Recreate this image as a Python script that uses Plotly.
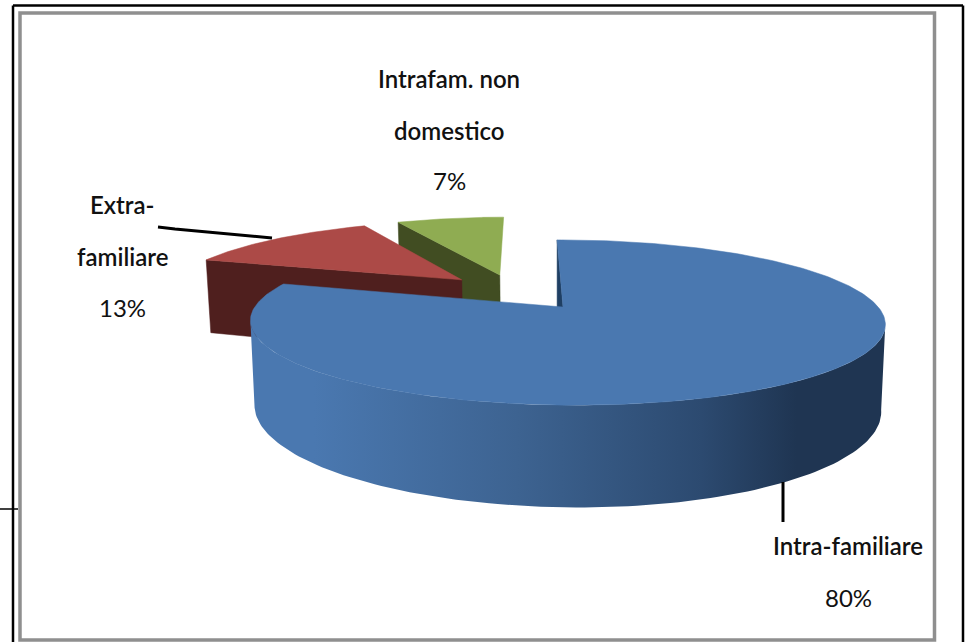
import numpy as np
import plotly.graph_objects as go

# --- data ---
CATEGORIES = ["Intra-familiare", "Extra-familiare", "Intrafam. non domestico"]
VALUES = [80, 13, 7]
LABEL_LINES = [["Intra-familiare", "80%"], ["Extra-", "familiare", "13%"], ["Intrafam. non", "domestico", "7%"]]
LABEL_X = [848, 122, 449]
LABEL_Y = [[545, 597], [204, 256, 307], [78, 130, 180]]

TOP_COLORS = ["#4a78b0", "#ac4a47", "#8fac52"]
WALL_COLORS = ["#1f3552", "#4f1f1e", "#414d22"]
OFFSETS = [(0.0, 0.0), (-0.34, -0.365), (-0.21, -0.434)]  # slice explosion on the pie plane

# perspective camera for the pie plane
X0, Y0 = 563.0, 307.0
SX, SHEAR, SY, TILT_U = 311.7, 7.0, 22.0, -3.4
DEPTH = 83.0


def project(u, t, z=0.0):
    u, t = np.asarray(u, float), np.asarray(t, float)
    w = 1 - 0.188 * t - 0.011 * u
    x = X0 + (SX * u + SHEAR * t) * (1 - 0.013 * z) / w
    y = (Y0 + SY * t + TILT_U * u + DEPTH * z) / w
    return x, y


def arc(a0, a1, off, n=120):
    th = np.radians(np.linspace(a0, a1, n))
    return np.sin(th) + off[0], -np.cos(th) + off[1]


def poly(x, y, color, **kw):
    return go.Scatter(x=list(x), y=list(y), mode="lines", fill="toself", fillcolor=color,
                      line=dict(color=color, width=0.5), hoverinfo="skip", showlegend=False, **kw)


total = sum(VALUES)
edges = np.cumsum([0] + VALUES) / total * 360.0
fig = go.Figure()

# exploded slices, back to front: green (index 2) then red (index 1)
for i in (2, 1):
    a0, a1 = edges[i], edges[i + 1]
    off = OFFSETS[i]
    eu, et = np.sin(np.radians(a0)) + off[0], -np.cos(np.radians(a0)) + off[1]
    xs_t, ys_t = project([off[0], eu], [off[1], et], 0)
    xs_b, ys_b = project([off[0], eu], [off[1], et], 1)
    fig.add_trace(poly(np.r_[xs_t, xs_b[::-1], xs_t[0]], np.r_[ys_t, ys_b[::-1], ys_t[0]], WALL_COLORS[i]))
    u, t = arc(a0, a1, off)
    x, y = project(np.r_[off[0], u, off[0]], np.r_[off[1], t, off[1]], 0)
    fig.add_trace(poly(x, y, TOP_COLORS[i]))

# main slice: cut wall sliver
xa, ya = project(0.0, 0.0)
xt, yt = project(0.0, -1.0)
fig.add_trace(poly([float(xt), float(xa), float(xt), float(xt)],
                   [float(yt), float(ya), float(ya), float(yt)], "#1f3f63"))

# main slice: outer side with gradient
u, t = arc(101, 259, OFFSETS[0])
xs1, ys1 = project(u, t, 0)
xs2, ys2 = project(u, t, 1)
side_x = np.r_[xs1, xs2[::-1], xs1[0]]
side_y = np.r_[ys1, ys2[::-1], ys1[0]]
fig.add_trace(go.Scatter(
    x=list(side_x), y=list(side_y), mode="lines", fill="toself",
    fillgradient=dict(type="horizontal", start=float(side_x.min()), stop=float(side_x.max()),
                      colorscale=[[0, "#4a78b0"], [0.1, "#4a78b0"], [0.42, "#3d6391"],
                                  [0.71, "#2c4a70"], [0.86, "#1f3552"], [1, "#1f3552"]]),
    line=dict(width=0, color="rgba(0,0,0,0)"), hoverinfo="skip", showlegend=False))

# main slice: top
u, t = arc(edges[0], edges[1], OFFSETS[0], 300)
x, y = project(np.r_[0, u, 0], np.r_[0, t, 0], 0)
fig.add_trace(poly(x, y, TOP_COLORS[0]))

# leader lines
fig.add_trace(go.Scatter(x=[158, 175, 272], y=[227, 229, 238], mode="lines",
                         line=dict(color="#000000", width=3), hoverinfo="skip", showlegend=False))
fig.add_trace(go.Scatter(x=[783, 783], y=[482, 522], mode="lines",
                         line=dict(color="#000000", width=3), hoverinfo="skip", showlegend=False))

# labels
for lines, lx, lys in zip(LABEL_LINES, LABEL_X, LABEL_Y):
    for s, ly in zip(lines, lys):
        fig.add_annotation(x=lx, y=ly, text=s, showarrow=False, xref="x", yref="y",
                           xanchor="center", yanchor="middle",
                           font=dict(family="Lato", size=24, color="#111111",
                                     weight=400 if s.endswith("%") else 600))

# frame of the scanned picture
shapes = [
    dict(type="line", x0=13, x1=13, y0=5.5, y1=642, line=dict(color="#000000", width=2.5)),
    dict(type="line", x0=13, x1=963, y0=5.5, y1=5.5, line=dict(color="#000000", width=2.5)),
    dict(type="line", x0=963, x1=963, y0=5.5, y1=642, line=dict(color="#000000", width=2.5)),
    dict(type="line", x0=0, x1=18, y0=509, y1=509, line=dict(color="#000000", width=1.5)),
    dict(type="rect", x0=20, x1=934.5, y0=13, y1=640, line=dict(color="#8f8f8f", width=3.5)),
]
fig.update_layout(
    width=967, height=642, margin=dict(l=0, r=0, t=0, b=0),
    paper_bgcolor="white", plot_bgcolor="white", shapes=shapes, showlegend=False,
    xaxis=dict(range=[0, 967], visible=False, fixedrange=True),
    yaxis=dict(range=[642, 0], visible=False, fixedrange=True),
)
fig.write_html("out.html", config=dict(displayModeBar=False),
               post_script="document.body.style.margin='0';document.body.style.overflow='hidden';")
